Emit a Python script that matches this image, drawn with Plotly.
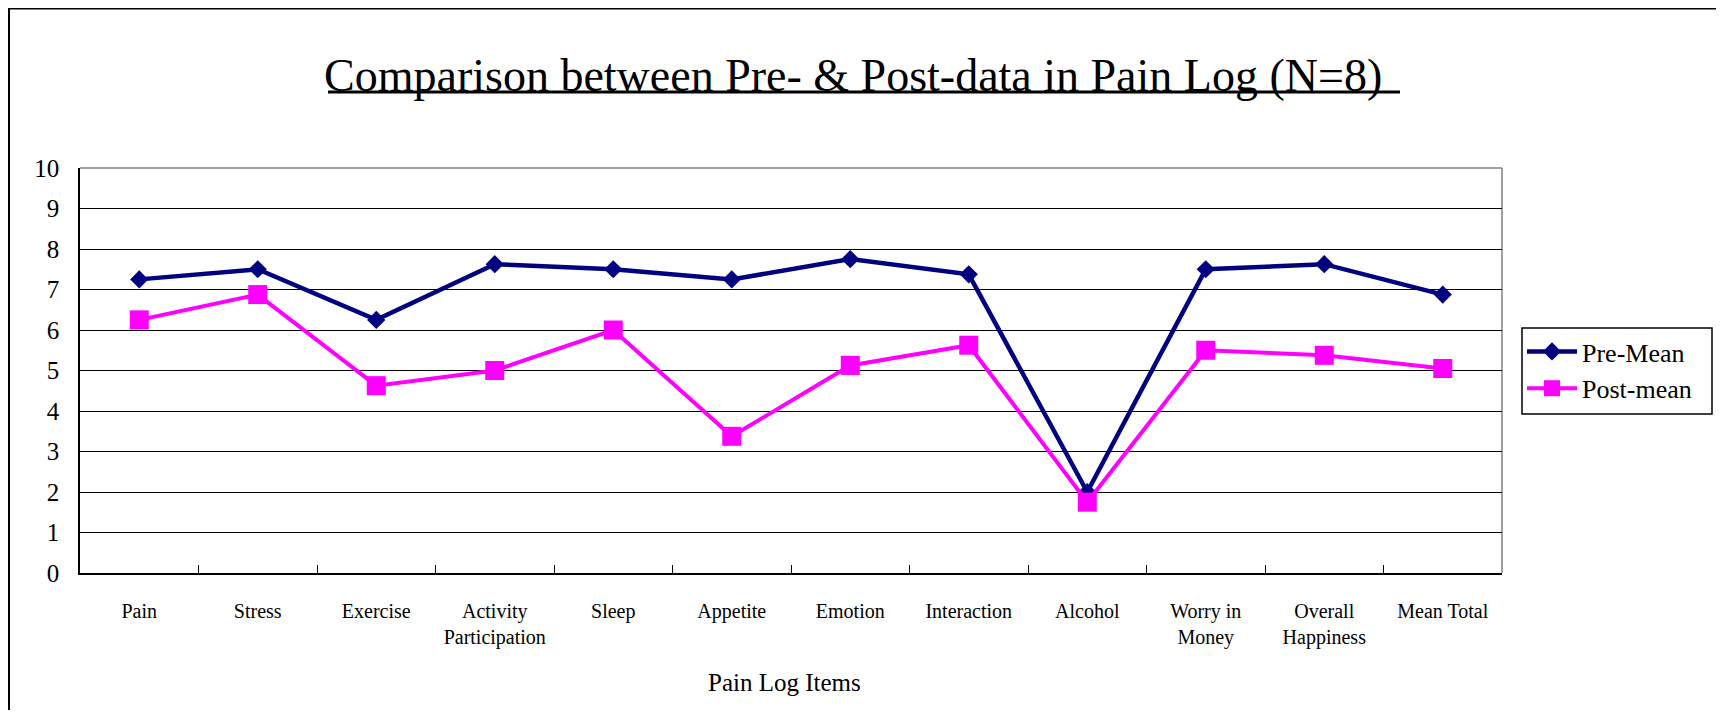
import plotly.graph_objects as go

categories = ["Pain", "Stress", "Exercise", "Activity<br>Participation", "Sleep", "Appetite",
              "Emotion", "Interaction", "Alcohol", "Worry in<br>Money", "Overall<br>Happiness", "Mean Total"]
pre_mean = [7.25, 7.5, 6.25, 7.625, 7.5, 7.25, 7.75, 7.375, 2.0, 7.5, 7.625, 6.875]
post_mean = [6.25, 6.875, 4.625, 5.0, 6.0, 3.375, 5.125, 5.625, 1.75, 5.5, 5.375, 5.05]
y_ticks = list(range(0, 11))

FONT = "Liberation Serif"

OFF = 8  # page body margin
W, H = 1724 - OFF, 718 - 2 * OFF
L, R, T, B = 80 - OFF, 1502 - OFF, 168 - OFF, 573 - OFF  # plot area in figure pixels

def px(x):
    return (x - OFF - L) / (R - L)

def py(y):
    return (B - (y - OFF)) / (B - T)

fig = go.Figure()
fig.add_trace(go.Scatter(
    x=categories, y=pre_mean, name="Pre-Mean", mode="lines+markers",
    line=dict(color="#000080", width=4.5),
    marker=dict(symbol="diamond", size=14, color="#000080"),
))
fig.add_trace(go.Scatter(
    x=categories, y=post_mean, name="Post-mean", mode="lines+markers",
    line=dict(color="#FF00FF", width=4),
    marker=dict(symbol="square", size=19, color="#FF00FF"),
))

fig.update_layout(
    width=W, height=H,
    margin=dict(l=L, r=W - R, t=T, b=H - B, pad=0),
    paper_bgcolor="white", plot_bgcolor="white",
    font=dict(family=FONT, color="black"),
    showlegend=True,
    legend=dict(
        x=px(1522), y=py(328), xanchor="left", yanchor="top",
        borderwidth=0, bgcolor="rgba(0,0,0,0)",
        font=dict(family=FONT, size=26, color="black"),
        itemwidth=50, tracegroupgap=0,
    ),
    xaxis=dict(
        type="category", tickson="boundaries", ticks="inside", ticklen=8,
        tickcolor="black", tickwidth=1,
        showline=True, linecolor="black", linewidth=1.5,
        showgrid=False, zeroline=False,
        tickfont=dict(family=FONT, size=20, color="black"),
        ticklabelstandoff=19,
        range=[-0.5, len(categories) - 0.5],
    ),
    yaxis=dict(
        range=[0, 10], tickvals=y_ticks, ticks="inside", ticklen=8,
        tickcolor="black", tickwidth=1,
        showline=True, linecolor="black", linewidth=1.5,
        showgrid=True, gridcolor="black", gridwidth=1, zeroline=False,
        tickfont=dict(family=FONT, size=25, color="black"),
        ticklabelstandoff=14,
    ),
    shapes=[
        # outer chart border
        dict(type="rect", xref="paper", yref="paper",
             x0=px(9), x1=px(1721), y0=py(760), y1=py(8.5),
             line=dict(color="black", width=2), layer="below"),
        # legend frame
        dict(type="rect", xref="paper", yref="paper",
             x0=px(1522), x1=px(1712), y0=py(414), y1=py(328),
             line=dict(color="black", width=1.5), layer="below"),
        # top and right plot edges (gray)
        dict(type="line", xref="paper", yref="paper", x0=0, x1=1, y0=1, y1=1,
             line=dict(color="#808080", width=1.5), layer="below"),
        dict(type="line", xref="paper", yref="paper", x0=1, x1=1, y0=0, y1=1,
             line=dict(color="#808080", width=1.5), layer="below"),
        # title underline
        dict(type="line", xref="paper", yref="paper",
             x0=px(328), x1=px(1400), y0=py(92), y1=py(92),
             line=dict(color="black", width=3)),
    ],
    annotations=[
        dict(text="Comparison between Pre- &amp; Post-data in Pain Log (N=8)",
             xref="paper", yref="paper", x=px(853), y=py(76),
             xanchor="center", yanchor="middle", showarrow=False,
             font=dict(family=FONT, size=46, color="black")),
        dict(text="Pain Log Items",
             xref="paper", yref="paper", x=px(784), y=py(682),
             xanchor="center", yanchor="middle", showarrow=False,
             font=dict(family=FONT, size=25, color="black")),
    ],
)

fig.write_html("out.html")
